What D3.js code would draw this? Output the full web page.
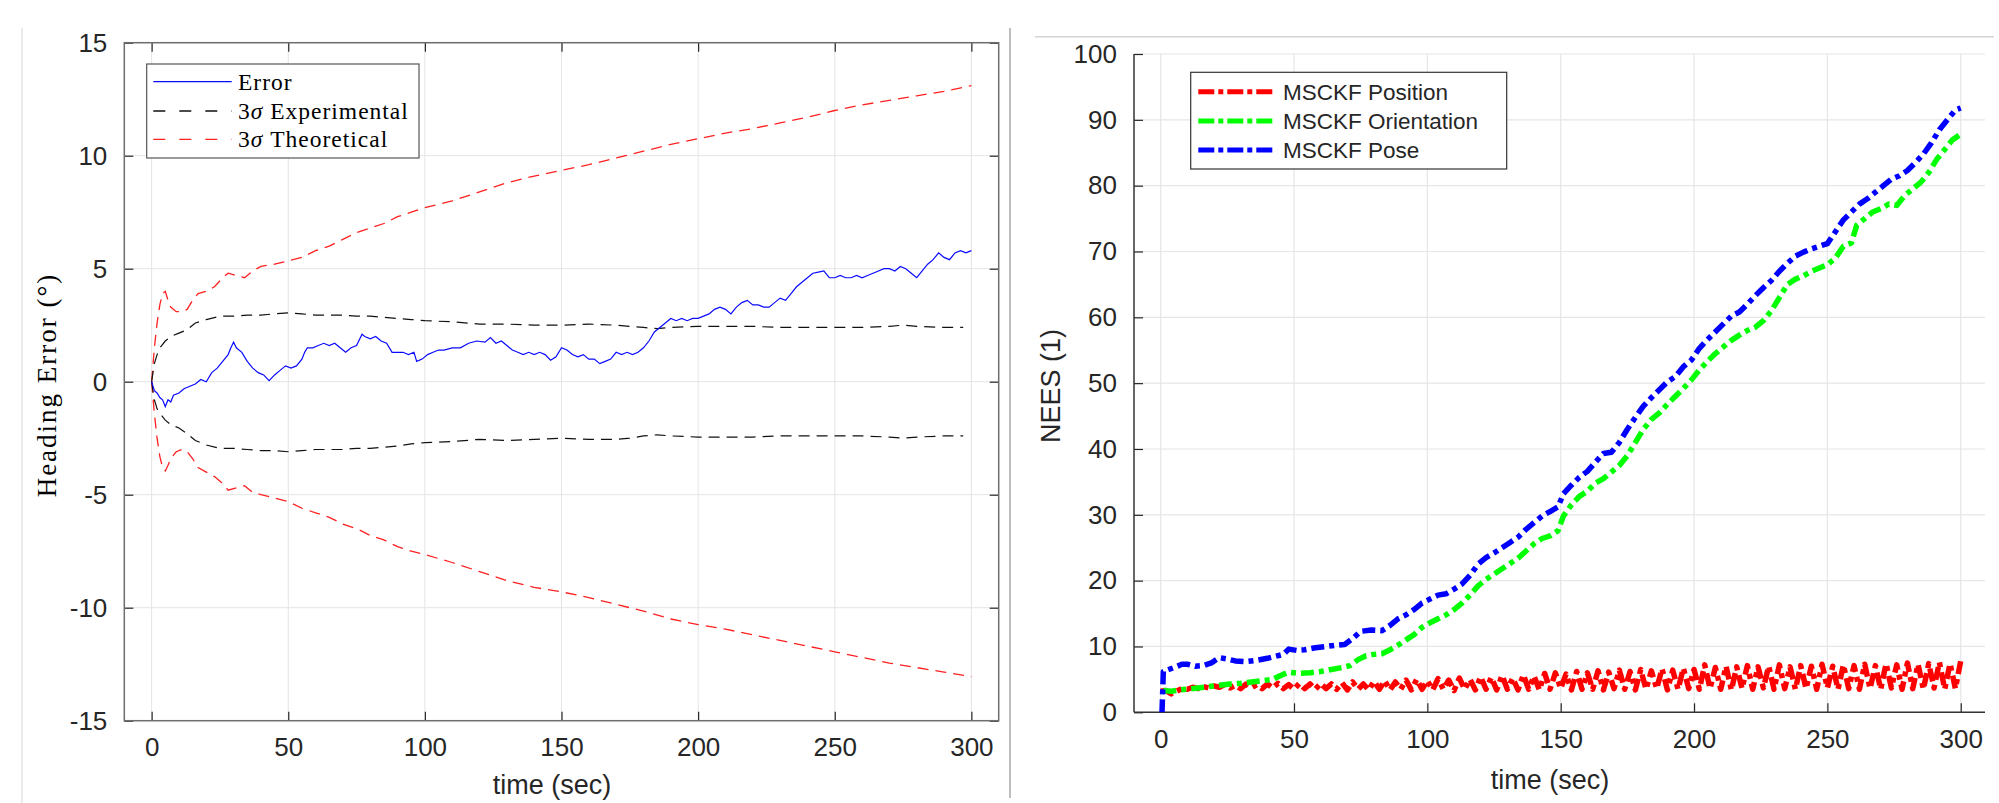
<!DOCTYPE html>
<html>
<head>
<meta charset="utf-8">
<script src="https://cdn.jsdelivr.net/npm/d3@7"></script>
<style>
  body { margin: 0; background: #fff; }
  text { fill: #262626; }
</style>
</head>
<body>
<script>
// ---- Data ----

// Left panel: heading error
const leftXTicks = [0, 50, 100, 150, 200, 250, 300];
const leftYTicks = [-15, -10, -5, 0, 5, 10, 15];

const errorSeries = [
  [0,0],[1,-0.4],[2,-0.5],[3,-0.7],[4,-0.8],[5,-1.1],[6,-0.8],[7,-0.9],[8,-0.6],[10,-0.5],
  [12,-0.3],[14,-0.2],[16,-0.1],[18,0.1],[20,0.0],[22,0.4],[24,0.6],[26,0.9],[28,1.2],[29,1.5],
  [30,1.75],[31,1.5],[33,1.3],[35,0.9],[37,0.6],[39,0.4],[41,0.3],[43,0.05],[45,0.3],[47,0.5],
  [49,0.7],[51,0.6],[53,0.7],[55,1.0],[56,1.3],[57,1.5],[59,1.5],[61,1.6],[63,1.7],[65,1.6],
  [67,1.7],[69,1.5],[71,1.3],[73,1.5],[75,1.6],[77,2.1],[78,2.0],[80,1.9],[82,2.0],[84,1.8],
  [86,1.7],[88,1.3],[90,1.3],[92,1.3],[94,1.2],[96,1.3],[97,0.9],[99,1.0],[101,1.2],[103,1.3],
  [105,1.4],[107,1.4],[110,1.5],[113,1.5],[116,1.7],[119,1.8],[122,1.75],[124,1.95],[126,1.7],[128,1.8],
  [130,1.6],[132,1.4],[134,1.3],[136,1.2],[138,1.3],[140,1.2],[142,1.3],[144,1.2],[146,0.95],[148,1.1],
  [150,1.5],[152,1.4],[154,1.2],[156,1.1],[158,1.2],[160,1.0],[162,1.0],[164,0.8],[166,0.9],[168,1.0],
  [170,1.3],[172,1.2],[174,1.3],[176,1.2],[178,1.3],[180,1.5],[182,1.8],[184,2.2],[186,2.4],[188,2.6],
  [190,2.8],[192,2.7],[194,2.8],[196,2.7],[198,2.8],[200,2.8],[202,2.9],[204,3.0],[206,3.2],[208,3.3],
  [210,3.2],[212,3.0],[214,3.3],[216,3.5],[218,3.6],[220,3.4],[222,3.4],[224,3.3],[226,3.3],[228,3.5],
  [230,3.7],[232,3.6],[234,3.9],[236,4.2],[238,4.4],[240,4.6],[242,4.8],[244,4.85],[246,4.9],[248,4.6],
  [250,4.6],[252,4.7],[254,4.6],[256,4.6],[258,4.7],[260,4.6],[262,4.7],[264,4.8],[266,4.9],[268,5.0],
  [270,5.0],[272,4.9],[274,5.1],[276,5.0],[278,4.8],[280,4.6],[282,4.9],[284,5.2],[286,5.4],[288,5.7],
  [290,5.5],[292,5.4],[294,5.7],[296,5.8],[298,5.7],[300,5.8]
];

const experimentalTime = [0,1,2,3,5,7,10,13,16,20,25,30,35,40,45,50,55,60,65,70,75,80,85,90,95,100,
  110,120,130,140,150,160,170,175,180,185,190,200,210,220,230,240,250,260,270,275,280,290,297];
const experimentalUpper = [0,0.8,1.2,1.5,1.8,2.0,2.15,2.3,2.6,2.75,2.9,2.9,2.95,2.95,3.0,3.05,3.0,2.95,2.95,2.95,
  2.9,2.9,2.85,2.8,2.75,2.7,2.65,2.55,2.55,2.5,2.5,2.55,2.5,2.45,2.4,2.35,2.4,2.45,2.45,2.45,
  2.4,2.4,2.4,2.4,2.45,2.5,2.45,2.4,2.4];
const experimentalLower = [0,-0.8,-1.2,-1.4,-1.7,-1.9,-2.05,-2.3,-2.6,-2.8,-2.95,-2.95,-3.0,-3.05,-3.05,-3.1,-3.05,-3.0,-3.0,-3.0,
  -2.95,-2.95,-2.9,-2.85,-2.75,-2.7,-2.65,-2.55,-2.6,-2.55,-2.5,-2.55,-2.55,-2.5,-2.4,-2.35,-2.4,-2.45,-2.45,-2.45,
  -2.4,-2.4,-2.4,-2.4,-2.45,-2.5,-2.45,-2.4,-2.4];

const theoreticalTime = [0,1,2,3,4,5,6,7,9,11,13,15,17,20,23,26,28,31,34,37,40,45,50,55,60,65,70,75,80,85,
  90,95,100,110,120,130,140,150,160,170,180,190,200,210,220,230,240,250,260,270,280,290,300];
const theoreticalUpper = [0,1.5,2.6,3.4,3.9,4.0,3.6,3.3,3.1,3.1,3.2,3.6,3.9,4.0,4.2,4.6,4.8,4.7,4.6,4.9,
  5.1,5.2,5.35,5.5,5.8,6.0,6.3,6.6,6.8,7.0,7.3,7.5,7.7,8.0,8.4,8.8,9.1,9.35,9.6,9.9,
  10.2,10.5,10.75,11.0,11.2,11.45,11.7,12.0,12.25,12.45,12.65,12.85,13.1];
const theoreticalLower = [0,-1.4,-2.5,-3.3,-3.8,-3.95,-3.7,-3.4,-3.1,-3.0,-3.1,-3.4,-3.8,-4.0,-4.2,-4.5,-4.8,-4.7,-4.6,-4.9,
  -5.0,-5.15,-5.3,-5.6,-5.8,-6.0,-6.3,-6.5,-6.8,-7.0,-7.3,-7.5,-7.65,-8.0,-8.4,-8.8,-9.1,-9.3,-9.55,-9.85,
  -10.15,-10.5,-10.75,-10.95,-11.2,-11.45,-11.7,-11.95,-12.2,-12.45,-12.65,-12.85,-13.05];

const leftLegend = ["Error", "Experimental", "Theoretical"];

// Right panel: NEES
const rightXTicks = [0, 50, 100, 150, 200, 250, 300];
const rightYTicks = [0, 10, 20, 30, 40, 50, 60, 70, 80, 90, 100];

const poseSeries = [
  [0.5,0],[1,6.2],[3,6.5],[5,6.8],[8,7.3],[10,7.3],[13,7.0],[16,7.1],[19,7.5],[22,8.3],[25,8.1],[28,7.8],
  [32,7.7],[36,7.9],[40,8.2],[43,8.5],[46,8.8],[48,9.6],[51,9.4],[54,9.5],[58,9.8],[62,10.0],[66,10.2],
  [69,10.3],[72,11.2],[75,12.3],[79,12.5],[83,12.4],[86,13.2],[89,14.2],[92,14.8],[95,15.6],[98,16.6],
  [101,17.2],[104,17.8],[107,18.0],[110,18.7],[113,19.5],[116,20.8],[119,22.5],[122,23.5],[125,24.2],
  [128,25.0],[131,25.8],[134,26.6],[137,27.8],[140,28.8],[143,29.8],[146,30.5],[149,31.2],[151,33.2],
  [154,34.5],[157,35.7],[160,36.6],[163,38.0],[166,39.3],[169,39.5],[172,41.0],[175,43.0],[178,44.8],
  [181,46.5],[184,47.8],[187,49.0],[190,50.2],[193,51.0],[196,52.5],[199,53.5],[202,55.3],[205,56.6],
  [208,57.8],[211,59.0],[214,60.2],[217,60.8],[220,62.0],[223,63.3],[226,64.5],[229,65.6],[232,67.0],
  [235,68.2],[238,69.3],[241,69.9],[244,70.4],[247,70.8],[250,71.2],[253,73.0],[256,74.8],[259,76.0],
  [262,77.2],[265,78.0],[268,79.0],[271,80.0],[274,81.0],[277,81.5],[280,82.3],[283,83.5],[286,84.8],
  [289,86.5],[292,88.5],[295,90.0],[298,91.5],[300,91.8]
];

const orientationSeries = [
  [1,3.3],[4,3.2],[7,3.4],[10,3.5],[14,3.7],[18,3.9],[22,4.1],[26,4.3],[30,4.4],[34,4.6],[38,4.8],
  [42,5.0],[45,5.6],[48,6.1],[52,5.9],[56,6.0],[60,6.2],[64,6.5],[68,6.8],[71,7.1],[74,8.0],[77,8.6],
  [80,8.8],[83,8.9],[86,9.5],[89,10.2],[92,11.0],[95,11.8],[98,12.9],[101,13.6],[104,14.2],[107,14.8],
  [110,15.6],[113,16.6],[116,17.8],[119,19.2],[122,20.2],[125,21.0],[128,21.8],[131,22.6],[134,23.4],
  [137,24.5],[140,25.6],[143,26.4],[146,26.8],[149,27.6],[151,29.8],[154,31.5],[157,32.8],[160,33.6],
  [163,34.8],[166,35.5],[169,36.5],[172,37.5],[175,39.0],[178,41.0],[181,43.0],[184,44.5],[187,45.5],
  [190,46.8],[193,48.0],[196,49.2],[199,50.5],[202,52.0],[205,53.3],[208,54.5],[211,55.5],[214,56.5],
  [217,57.3],[220,58.0],[223,58.5],[226,59.5],[229,61.0],[232,63.0],[235,65.0],[238,65.8],[241,66.3],
  [244,67.0],[247,67.5],[250,68.0],[253,69.0],[256,70.8],[259,71.3],[261,74.0],[264,75.0],[267,76.0],
  [270,76.5],[273,77.2],[276,77.0],[279,78.5],[282,79.5],[285,80.5],[288,82.0],[291,84.0],[294,85.5],
  [297,87.0],[300,87.8]
];

// position NEES sampled every 2 s from t = 0
const positionStep = 2;
const positionValues = [
  3.2,
  3.3, 2.8, 3.2, 3.6, 3.5, 3.8, 3.6, 3.9, 3.7, 4.0,
  3.8, 4.2, 3.7, 4.1, 3.6, 4.3, 3.7, 4.2, 3.6, 4.3,
  3.7, 4.4, 3.6, 4.2, 3.5, 4.4, 3.6, 4.3, 3.5, 4.4,
  3.6, 4.3, 3.5, 4.5, 3.4, 4.6, 3.5, 4.3, 3.4, 4.7,
  3.5, 4.8, 3.4, 4.6, 3.5, 4.9, 3.4, 5.0, 3.5, 4.8,
  3.4, 5.1, 3.5, 4.9, 3.3, 5.2, 3.5, 5.0, 3.4, 5.4,
  3.5, 5.3, 3.4, 5.6, 3.5, 5.2, 3.4, 5.7, 3.5, 5.5,
  3.4, 5.9, 3.5, 6.0, 3.6, 5.8, 3.4, 6.2, 3.5, 6.0,
  3.5, 6.3, 3.4, 6.1, 3.6, 6.4, 3.5, 6.2, 3.4, 6.5,
  3.5, 6.3, 3.6, 6.6, 3.4, 6.4, 3.5, 6.7, 3.6, 6.5,
  3.5, 7.2, 3.6, 6.8, 3.5, 7.0, 3.4, 6.9, 3.6, 7.1,
  3.5, 6.9, 3.7, 7.0, 3.5, 7.2, 3.6, 6.9, 3.5, 7.1,
  3.6, 7.0, 3.5, 7.3, 3.7, 7.0, 3.5, 7.2, 3.6, 7.1,
  3.5, 7.3, 3.6, 7.1, 3.5, 7.4, 3.7, 7.2, 3.5, 7.5,
  3.6, 7.3, 3.5, 7.4, 3.7, 7.6, 3.5, 7.4, 3.6, 7.8
];

const rightLegend = ["MSCKF Position", "MSCKF Orientation", "MSCKF Pose"];

// ---- Drawing ----
const width = 1999, height = 803;
const sansFont = "'Liberation Sans', Arial, Helvetica, sans-serif";
const serifFont = "'Liberation Serif', 'Times New Roman', serif";
const plainNumber = d => String(d);   // keep the ASCII hyphen on negatives

const svg = d3.select("body").append("svg")
    .attr("width", width)
    .attr("height", height);

// panel separators
svg.append("line").attr("x1", 22).attr("x2", 22).attr("y1", 28).attr("y2", 803)
    .style("stroke", "#dcdcdc").style("stroke-width", 1.2);
svg.append("line").attr("x1", 1010).attr("x2", 1010).attr("y1", 28).attr("y2", 798)
    .style("stroke", "#a8a8a8").style("stroke-width", 1.5);
svg.append("line").attr("x1", 1035).attr("x2", 1994).attr("y1", 36.7).attr("y2", 36.7)
    .style("stroke", "#d4d4d4").style("stroke-width", 1.6);

const lineGen = (x, y) => d3.line().x(d => x(d[0])).y(d => y(d[1]));

function styleTicks(g, size) {
  g.select(".domain").remove();
  g.selectAll(".tick line").style("stroke", "#262626").style("stroke-width", 1.2);
  g.selectAll(".tick text")
      .style("font-family", sansFont)
      .style("font-size", size + "px")
      .style("fill", "#262626");
}

drawLeft();
drawRight();

function drawLeft() {
  const x = d3.scaleLinear().domain([-10, 310]).range([124.3, 998.7]);
  const y = d3.scaleLinear().domain([-15, 15]).range([720.7, 42.7]);
  const [x0, x1] = x.range(), [y0, y1] = y.range();

  const g = svg.append("g").attr("class", "left");

  g.append("clipPath").attr("id", "clipLeft")
    .append("rect").attr("x", x0).attr("y", y1).attr("width", x1 - x0).attr("height", y0 - y1);

  // grid
  g.append("g").selectAll("line").data(leftXTicks).enter().append("line")
      .attr("x1", d => x(d)).attr("x2", d => x(d)).attr("y1", y1).attr("y2", y0)
      .style("stroke", "#e4e4e4").style("stroke-width", 1);
  g.append("g").selectAll("line").data(leftYTicks).enter().append("line")
      .attr("x1", x0).attr("x2", x1).attr("y1", d => y(d)).attr("y2", d => y(d))
      .style("stroke", "#e4e4e4").style("stroke-width", 1);

  // axes (ticks point inward, MATLAB box on)
  g.append("g").attr("transform", "translate(0," + y0 + ")")
      .call(d3.axisBottom(x).tickValues(leftXTicks).tickSize(-9).tickPadding(17).tickFormat(plainNumber))
      .call(s => styleTicks(s, 26));
  g.append("g").attr("transform", "translate(0," + y1 + ")")
      .call(d3.axisTop(x).tickValues(leftXTicks).tickSize(-9).tickFormat(""))
      .call(s => styleTicks(s, 26));
  g.append("g").attr("transform", "translate(" + x0 + ",0)")
      .call(d3.axisLeft(y).tickValues(leftYTicks).tickSize(-9).tickPadding(17).tickFormat(plainNumber))
      .call(s => styleTicks(s, 26));
  g.append("g").attr("transform", "translate(" + x1 + ",0)")
      .call(d3.axisRight(y).tickValues(leftYTicks).tickSize(-9).tickFormat(""))
      .call(s => styleTicks(s, 26));

  g.append("rect")
      .attr("x", x0).attr("y", y1).attr("width", x1 - x0).attr("height", y0 - y1)
      .style("fill", "none").style("stroke", "#6e6e6e").style("stroke-width", 1.5);

  // series
  const plot = g.append("g").attr("clip-path", "url(#clipLeft)");
  const line = lineGen(x, y);
  const zip = (t, v) => t.map((d, i) => [d, v[i]]);

  const curves = [
    { data: zip(theoreticalTime, theoreticalUpper), color: "#ff2020", dash: "11,7", w: 1.3 },
    { data: zip(theoreticalTime, theoreticalLower), color: "#ff2020", dash: "11,7", w: 1.3 },
    { data: zip(experimentalTime, experimentalUpper), color: "#111", dash: "11,7", w: 1.2 },
    { data: zip(experimentalTime, experimentalLower), color: "#111", dash: "11,7", w: 1.2 },
    { data: errorSeries, color: "#0a0aff", dash: null, w: 1.2 }
  ];

  plot.selectAll(".curve").data(curves).enter().append("path")
      .attr("class", "curve")
      .attr("d", d => line(d.data))
      .style("fill", "none")
      .style("stroke", d => d.color)
      .style("stroke-width", d => d.w)
      .style("stroke-dasharray", d => d.dash);

  // legend
  const lg = g.append("g").attr("class", "legend");
  lg.append("rect").attr("x", 146.7).attr("y", 64).attr("width", 272.3).attr("height", 94)
      .style("fill", "#fff").style("stroke", "#555").style("stroke-width", 1.2);
  const rows = [
    { label: leftLegend[0], color: "#0a0aff", dash: null, sigma: false, y: 81.7 },
    { label: leftLegend[1], color: "#111", dash: "12,14", sigma: true, y: 111 },
    { label: leftLegend[2], color: "#ff2020", dash: "12,14", sigma: true, y: 139.3 }
  ];
  const row = lg.selectAll(".row").data(rows).enter().append("g").attr("class", "row");
  row.append("line")
      .attr("x1", 153.3).attr("x2", 231.7).attr("y1", d => d.y).attr("y2", d => d.y)
      .style("stroke", d => d.color).style("stroke-width", 1.3)
      .style("stroke-dasharray", d => d.dash);
  const label = row.append("text")
      .attr("x", 238).attr("y", d => d.y + 8)
      .style("font-family", serifFont).style("font-size", "23.5px")
      .style("letter-spacing", "1px").style("fill", "#000");
  label.filter(d => d.sigma).append("tspan").text("3");
  label.filter(d => d.sigma).append("tspan").style("font-style", "italic").text("σ ");
  label.append("tspan").text(d => d.label);

  // axis labels
  g.append("text")
      .attr("x", 552).attr("y", 794)
      .attr("text-anchor", "middle")
      .style("font-family", sansFont).style("font-size", "27px")
      .text("time (sec)");
  g.append("text")
      .attr("transform", "translate(56,385) rotate(-90)")
      .attr("text-anchor", "middle")
      .style("font-family", serifFont).style("font-size", "27px")
      .style("letter-spacing", "2px").style("fill", "#000")
      .text("Heading Error (°)");
}

function drawRight() {
  const x = d3.scaleLinear().domain([-10, 310]).range([1134, 1987.4]);
  const y = d3.scaleLinear().domain([0, 100]).range([712.3, 54]);
  const x0 = 1134, x1 = 1985, [y0, y1] = y.range();

  const g = svg.append("g").attr("class", "right");

  g.append("clipPath").attr("id", "clipRight")
    .append("rect").attr("x", x0).attr("y", y1 - 5).attr("width", x1 - x0 + 5).attr("height", y0 - y1 + 5);

  // grid
  g.append("g").selectAll("line").data(rightXTicks).enter().append("line")
      .attr("x1", d => x(d)).attr("x2", d => x(d)).attr("y1", y1).attr("y2", y0)
      .style("stroke", "#e6e6e6").style("stroke-width", 1.2);
  g.append("g").selectAll("line").data(rightYTicks).enter().append("line")
      .attr("x1", x0).attr("x2", x1).attr("y1", d => y(d)).attr("y2", d => y(d))
      .style("stroke", "#e6e6e6").style("stroke-width", 1.2);

  // axes (box off)
  g.append("g").attr("transform", "translate(0," + y0 + ")")
      .call(d3.axisBottom(x).tickValues(rightXTicks).tickSize(-9).tickPadding(17).tickFormat(plainNumber))
      .call(s => styleTicks(s, 26));
  g.append("g").attr("transform", "translate(" + x0 + ",0)")
      .call(d3.axisLeft(y).tickValues(rightYTicks).tickSize(-9).tickPadding(17).tickFormat(plainNumber))
      .call(s => styleTicks(s, 26));
  g.append("line").attr("x1", x0).attr("x2", x1).attr("y1", y0).attr("y2", y0)
      .style("stroke", "#333").style("stroke-width", 1.5);
  g.append("line").attr("x1", x0).attr("x2", x0).attr("y1", y1).attr("y2", y0)
      .style("stroke", "#333").style("stroke-width", 1.5);

  // series
  const plot = g.append("g").attr("clip-path", "url(#clipRight)");
  const line = lineGen(x, y);
  const positionSeries = positionValues.map((v, i) => [i * positionStep, v]);

  const curves = [
    { data: positionSeries, color: "#ff0000" },
    { data: orientationSeries, color: "#00ff00" },
    { data: poseSeries, color: "#0000ff" }
  ];
  plot.selectAll(".curve").data(curves).enter().append("path")
      .attr("class", "curve")
      .attr("d", d => line(d.data))
      .style("fill", "none")
      .style("stroke", d => d.color)
      .style("stroke-width", 5.5)
      .style("stroke-linejoin", "round")
      .style("stroke-dasharray", "13,5,5,5");

  // legend
  const lg = g.append("g").attr("class", "legend");
  lg.append("rect").attr("x", 1190.7).attr("y", 72.3).attr("width", 316).attr("height", 96.7)
      .style("fill", "#fff").style("stroke", "#333").style("stroke-width", 1.2);
  const rowsY = [91.7, 121, 150];
  const row = lg.selectAll(".row").data(rightLegend).enter().append("g").attr("class", "row");
  row.append("line")
      .attr("x1", 1198.3).attr("x2", 1276).attr("y1", (d, i) => rowsY[i]).attr("y2", (d, i) => rowsY[i])
      .style("stroke", (d, i) => curves[i].color).style("stroke-width", 5)
      .style("stroke-dasharray", "16,4,5,4");
  row.append("text")
      .attr("x", 1283).attr("y", (d, i) => rowsY[i] + 8)
      .style("font-family", sansFont).style("font-size", "22.5px")
      .text(d => d);

  // axis labels
  g.append("text")
      .attr("x", 1550).attr("y", 789)
      .attr("text-anchor", "middle")
      .style("font-family", sansFont).style("font-size", "27px")
      .text("time (sec)");
  g.append("text")
      .attr("transform", "translate(1060,386) rotate(-90)")
      .attr("text-anchor", "middle")
      .style("font-family", sansFont).style("font-size", "27px")
      .text("NEES (1)");
}
</script>
</body>
</html>
